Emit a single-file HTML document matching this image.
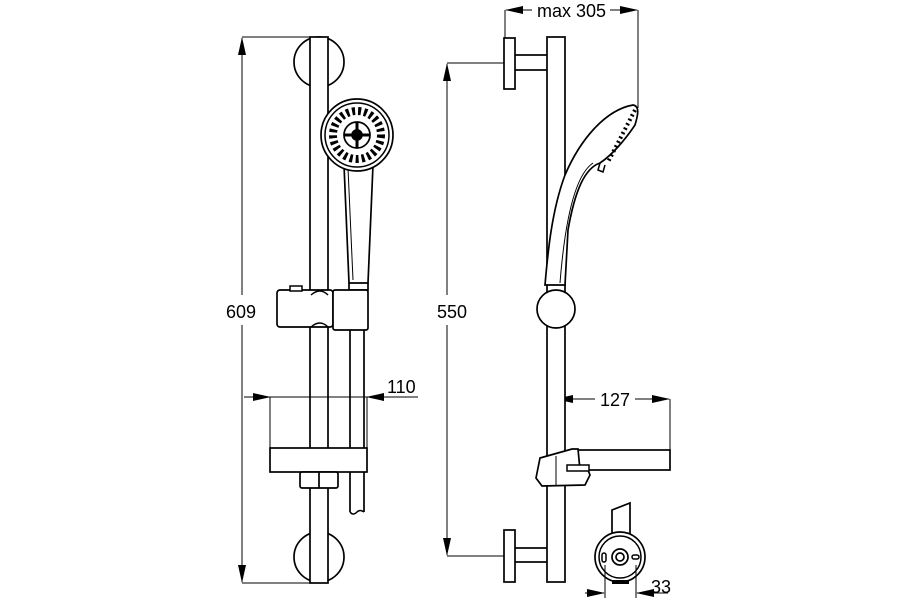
<!DOCTYPE html>
<html><head><meta charset="utf-8"><style>
html,body{margin:0;padding:0;background:#fff;}
svg{display:block;}
text{font-family:"Liberation Sans",Arial,sans-serif;font-size:18px;fill:#000;}
</style></head><body>
<svg width="900" height="600" viewBox="0 0 900 600" xmlns="http://www.w3.org/2000/svg">
<defs>
<marker id="a" markerWidth="18" markerHeight="8" refX="17" refY="4" orient="auto" markerUnits="userSpaceOnUse"><path d="M0,0 L18,4 L0,8 z" fill="#000"/></marker>
</defs>
<g fill="none" stroke="#000" stroke-width="1">
<line x1="242" y1="37" x2="310" y2="37"/>
<line x1="242" y1="583" x2="310" y2="583"/>
<line x1="242" y1="295" x2="242" y2="38" marker-end="url(#a)"/>
<line x1="242" y1="325" x2="242" y2="582" marker-end="url(#a)"/>
</g>
<g fill="none" stroke="#000" stroke-width="1.7">
<circle cx="319" cy="62" r="25" fill="#fff"/>
<circle cx="319" cy="557" r="25" fill="#fff"/>
<rect x="310" y="37" width="18" height="546" fill="#fff"/>
<path d="M350 330 L350 512 M364 330 L364 512"/>
<path d="M350 512 q3 4 7 0 q3 -3 7 0" stroke-width="1.5"/>
<path d="M344 165 L349 283 L368 283 L373 165" fill="#fff"/>
<line x1="348" y1="168" x2="353" y2="280" stroke-width="1"/>
<path d="M349 283 L349 290 L368 290 L368 283"/>
<circle cx="357" cy="135" r="36" fill="#fff"/>
<circle cx="357" cy="135" r="32" stroke-width="1.5"/>
<circle cx="357" cy="135" r="24" stroke="#000" stroke-width="8" stroke-dasharray="3 3"/>
<circle cx="357" cy="135" r="13" fill="#fff"/>
<circle cx="357" cy="135" r="5" fill="#000"/>
<path d="M357 122 V148 M344 135 H370" stroke-width="3"/>
<rect x="277" y="290" width="56" height="37" rx="3" fill="#fff"/>
<rect x="333" y="290" width="35" height="40" rx="2" fill="#fff"/>
<rect x="290" y="286" width="12" height="5" fill="#fff" stroke-width="1.5"/>
<path d="M311 295 q9 -8 17 0 M311 327 q9 -8 17 0" stroke-width="1.5"/>
<rect x="270" y="448" width="97" height="24" fill="#fff"/>
<rect x="300" y="472" width="38" height="16" rx="2" fill="#fff"/>
<line x1="319" y1="472" x2="319" y2="488"/>
</g>
<g fill="none" stroke="#000" stroke-width="1">
<line x1="270" y1="397" x2="270" y2="448"/>
<line x1="367" y1="397" x2="367" y2="448"/>
<line x1="244" y1="397" x2="270" y2="397" marker-end="url(#a)"/>
<line x1="418" y1="397" x2="367" y2="397" marker-end="url(#a)"/>
<line x1="270" y1="397" x2="367" y2="397"/>
</g>
<text x="387" y="393">110</text>
<text x="226" y="318">609</text>

<g fill="none" stroke="#000" stroke-width="1">
<line x1="505" y1="10" x2="505" y2="38"/>
<line x1="638" y1="10" x2="638" y2="108"/>
<line x1="532" y1="10" x2="506" y2="10" marker-end="url(#a)"/>
<line x1="610" y1="10" x2="637" y2="10" marker-end="url(#a)"/>
<line x1="447" y1="63" x2="504" y2="63"/>
<line x1="447" y1="556" x2="504" y2="556"/>
<line x1="447" y1="295" x2="447" y2="64" marker-end="url(#a)"/>
<line x1="447" y1="325" x2="447" y2="555" marker-end="url(#a)"/>
<line x1="555" y1="399" x2="555" y2="450"/>
<line x1="670" y1="399" x2="670" y2="450"/>
<line x1="595" y1="399" x2="556" y2="399" marker-end="url(#a)"/>
<line x1="635" y1="399" x2="669" y2="399" marker-end="url(#a)"/>
</g>
<text x="537" y="17">max 305</text>
<text x="437" y="318">550</text>
<text x="600" y="406">127</text>
<g fill="none" stroke="#000" stroke-width="1.7">
<rect x="514" y="55" width="35" height="15" fill="#fff"/>
<rect x="504" y="38" width="11" height="51" fill="#fff"/>
<rect x="514" y="548" width="35" height="14" fill="#fff"/>
<rect x="504" y="530" width="11" height="52" fill="#fff"/>
<rect x="547" y="37" width="18" height="545" fill="#fff"/>
<path d="M565 175 C580 140 605 110 633 105 C640 106 638 115 635 125 C625 140 612 155 600 163 C585 168 575 190 568 230 L565 285 L545 285 C548 250 552 210 565 175 Z" fill="#fff"/>
<path d="M600 163 L598 170 L603 172 L605 165" stroke-width="1.5"/>
<path d="M635 110 L608 162" stroke="#000" stroke-width="4" stroke-dasharray="2 3"/>
<path d="M593 163 C575 175 565 220 560 283" stroke-width="1"/>
<circle cx="556" cy="309" r="19" fill="#fff"/>
<rect x="578" y="450" width="92" height="20" fill="#fff"/>
<path d="M540 458 L572 449 L578 449 L580 470 L588 470 L590 475 L585 485 L542 486 L536 478 Z" fill="#fff"/>
<line x1="556" y1="456" x2="556" y2="486" stroke-width="1"/>
<rect x="567" y="465" width="22" height="6" fill="#fff" stroke-width="1.5"/>
<path d="M612 510 L630 503 L630 540 L612 540 Z" fill="#fff"/>
<circle cx="620" cy="557" r="25" fill="#fff"/>
<circle cx="620" cy="557" r="21" stroke-width="1.5"/>
<circle cx="620" cy="557" r="8"/>
<circle cx="620" cy="557" r="4"/>
<rect x="602" y="553" width="4" height="9" rx="2" stroke-width="1.5"/>
<rect x="632" y="555" width="7" height="4" rx="2" stroke-width="1.5"/>
<rect x="612" y="580" width="17" height="4" fill="#000" stroke="none"/>
</g>
<g fill="none" stroke="#000" stroke-width="1">
<line x1="605" y1="565" x2="605" y2="598"/>
<line x1="636" y1="565" x2="636" y2="598"/>
<line x1="585" y1="593" x2="604" y2="593" marker-end="url(#a)"/>
<line x1="668" y1="593" x2="637" y2="593" marker-end="url(#a)"/>
</g>
<text x="651" y="593">33</text>
</svg>
</body></html>
